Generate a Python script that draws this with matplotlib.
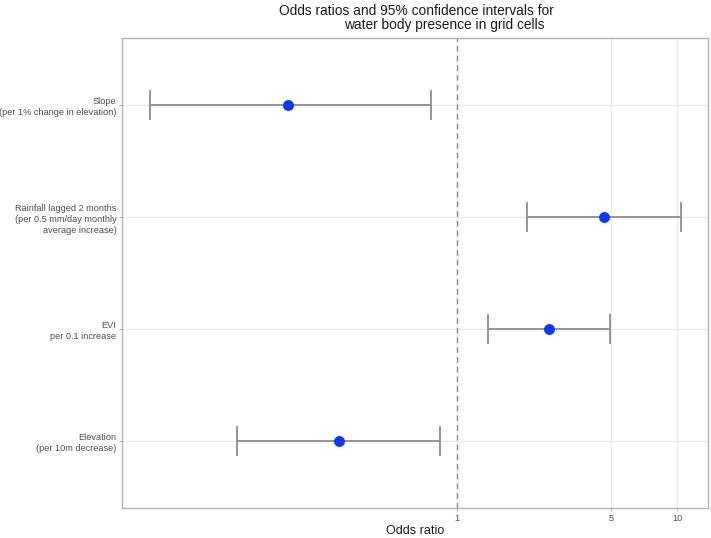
import numpy as np
import matplotlib.pyplot as plt
import matplotlib.ticker as mticker

# Odds ratios with 95% CI, bottom to top
labels = ["Elevation\n(per 10m decrease)",
          "EVI\nper 0.1 increase",
          "Rainfall lagged 2 months\n(per 0.5 mm/day monthly\naverage increase)",
          "Slope\n(per 1% change in elevation)"]
odds = [0.29, 2.62, 4.66, 0.17]
ci_low = [0.10, 1.38, 2.08, 0.040]
ci_high = [0.84, 4.96, 10.4, 0.76]

plt.rcParams['font.family'] = ['Liberation Sans', 'DejaVu Sans']

fig = plt.figure(figsize=(7.11, 5.38), dpi=100)
ax = fig.add_axes([0.1716, 0.0558, 0.8242, 0.8732])

y = np.arange(1, len(labels) + 1)
odds = np.array(odds)
err = [odds - np.array(ci_low), np.array(ci_high) - odds]

ax.set_xscale('log')
ax.set_xlim(0.0300, 13.8)
ax.set_ylim(0.4, 4.6)

# grid
for v in [1, 5, 10]:
    ax.axvline(v, color='#ebebeb', lw=1.0, zorder=0)
for v in y:
    ax.axhline(v, color='#ebebeb', lw=1.0, zorder=0)
ax.axvline(1, color='#8a8a8a', lw=1.0, ls=(0, (4, 3)), zorder=1)

ax.errorbar(odds, y, xerr=err, fmt='none', ecolor='#8c8c8c', elinewidth=1.3,
            capsize=11, capthick=1.3, zorder=2)
ax.scatter(odds, y, s=62, color='#0a37ff', zorder=3, linewidths=0)

ax.set_xticks([1, 5, 10])
ax.xaxis.set_major_formatter(mticker.FixedFormatter(['1', '5', '10']))
ax.xaxis.set_minor_locator(mticker.NullLocator())
ax.set_yticks(y)
ax.set_yticklabels(labels, ha='right', multialignment='right', linespacing=1.3)
ax.tick_params(axis='both', colors='#b3b3b3', labelcolor='#4d4d4d',
               labelsize=6.6, length=2.5, width=0.8, pad=1.5)
for s in ax.spines.values():
    s.set_color('#b3b3b3')
    s.set_linewidth(1.0)

ax.set_xlabel('Odds ratio', fontsize=9, color='#1a1a1a', labelpad=2)

fig.text(0.5851, 0.980, 'Odds ratios and 95% confidence intervals for',
         ha='center', va='center', fontsize=9.9, color='#1a1a1a')
fig.text(0.6245, 0.953, 'water body presence in grid cells',
         ha='center', va='center', fontsize=9.9, color='#1a1a1a')

fig.savefig('out.png', dpi=100)
